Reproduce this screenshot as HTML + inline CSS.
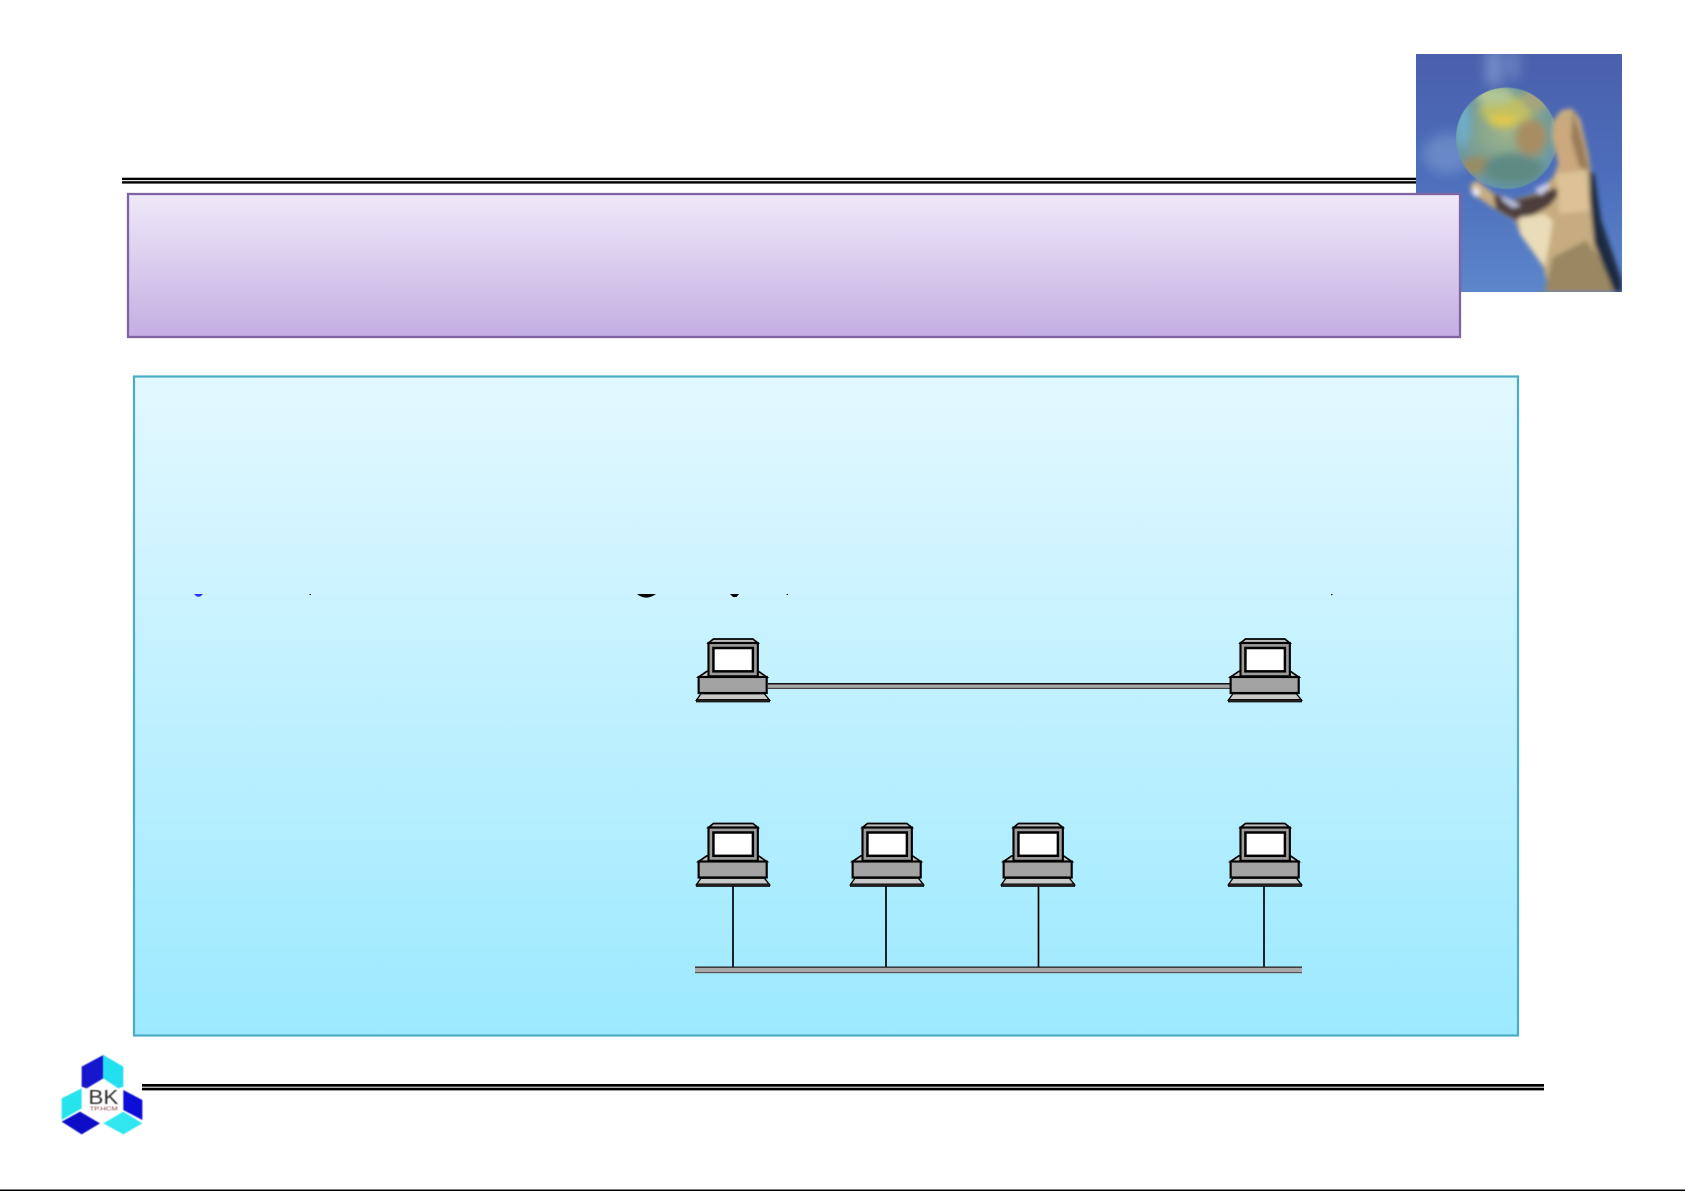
<!DOCTYPE html>
<html>
<head>
<meta charset="utf-8">
<style>
html,body{margin:0;padding:0;background:#fff;width:1685px;height:1191px;overflow:hidden}
svg{display:block;position:absolute;left:0;top:0}
</style>
</head>
<body>
<svg width="1685" height="1191" viewBox="0 0 1685 1191" xmlns="http://www.w3.org/2000/svg">
<defs>
<linearGradient id="pur" x1="0" y1="0" x2="0" y2="1"><stop offset="0" stop-color="#EFE9F9"/><stop offset="1" stop-color="#C4AEE2"/></linearGradient>
<linearGradient id="blu" x1="0" y1="0" x2="0" y2="1"><stop offset="0" stop-color="#E3F8FF"/><stop offset="1" stop-color="#9CE9FF"/></linearGradient>
<linearGradient id="sky" x1="0" y1="0" x2="0" y2="1"><stop offset="0" stop-color="#4A60AC"/><stop offset=".5" stop-color="#4C6DBB"/><stop offset="1" stop-color="#5C86CA"/></linearGradient>
<radialGradient id="glb" cx=".5" cy=".42" r=".6"><stop offset="0" stop-color="#A0B48A"/><stop offset=".55" stop-color="#7FA290"/><stop offset="1" stop-color="#5F93AE"/></radialGradient>
<filter id="b5" x="-30%" y="-30%" width="160%" height="160%"><feGaussianBlur stdDeviation="7"/></filter>
<filter id="b10" x="-30%" y="-30%" width="160%" height="160%"><feGaussianBlur stdDeviation="12"/></filter>
<filter id="b14" x="-80%" y="-80%" width="260%" height="260%"><feGaussianBlur stdDeviation="18"/></filter>
<filter id="b1" x="-10%" y="-10%" width="120%" height="120%"><feGaussianBlur stdDeviation="1.5"/></filter>
<clipPath id="pc"><rect x="0" y="0" width="618" height="714"/></clipPath>
<clipPath id="gc"><circle cx="272" cy="253" r="152"/></clipPath>
<symbol id="pc1" viewBox="0 0 225 195" width="74" height="65" preserveAspectRatio="none" overflow="visible">
  <g stroke="#000" stroke-linejoin="miter">
    <polygon points="8,117 33,100 190,100 215,117" fill="#c4c4c4" stroke-width="5"/>
    <rect x="8" y="117" width="207" height="48" fill="#a3a3a3" stroke-width="6.5"/>
    <polygon points="15,167 208,167 224,187 1,187" fill="#c8c8c8" stroke-width="4"/>
    <rect x="1" y="184" width="223" height="8" fill="#222" stroke-width="2"/>
    <polygon points="38,15 53,3 173,3 188,15" fill="#bdbdbd" stroke-width="5"/>
    <rect x="38" y="15" width="150" height="100" fill="#9c9c9c" stroke-width="6.5"/>
    <rect x="53" y="30" width="120" height="70" fill="#fff" stroke-width="7.5"/>
  </g>
</symbol>
</defs>

<!-- globe photo -->
<svg x="1416" y="54" width="206" height="238" viewBox="0 0 618 714">
  <g clip-path="url(#pc)">
    <rect width="618" height="714" fill="url(#sky)"/>
    <ellipse cx="235" cy="40" rx="28" ry="65" fill="#7D96CC" opacity=".8" filter="url(#b14)"/>
    <ellipse cx="290" cy="30" rx="22" ry="50" fill="#7690C8" opacity=".7" filter="url(#b14)"/>
    <ellipse cx="95" cy="300" rx="75" ry="60" fill="#7392CC" opacity=".75" filter="url(#b14)"/>
    <circle cx="272" cy="253" r="152" fill="url(#glb)" filter="url(#b1)"/>
    <g clip-path="url(#gc)">
      <g filter="url(#b10)">
        <ellipse cx="272" cy="170" rx="80" ry="42" fill="#BFBF64"/>
        <ellipse cx="262" cy="200" rx="45" ry="20" fill="#E0C84C"/>
        <ellipse cx="235" cy="125" rx="55" ry="28" fill="#B0C694"/>
        <ellipse cx="345" cy="250" rx="45" ry="55" fill="#A88C62"/>
        <ellipse cx="360" cy="135" rx="40" ry="40" fill="#A4A47E"/>
        <ellipse cx="185" cy="335" rx="50" ry="28" fill="#9A8C62"/>
        <ellipse cx="290" cy="345" rx="90" ry="45" fill="#5E8A84"/>
        <ellipse cx="140" cy="210" rx="25" ry="70" fill="#6FACC6"/>
      </g>
    </g>
    <g filter="url(#b5)">
      <polygon points="412,198 437,168 467,163 492,193 517,298 527,368 542,468 557,578 618,714 400,714 382,638 312,538 297,498 242,468 167,418 162,393 182,378 232,418 292,438 362,418 412,368 427,328 407,248" fill="#C6AC80"/>
      <polygon points="240,465 300,498 340,490 400,455 430,420 420,400 370,420 290,440 232,420" fill="#4E3E3A"/>
      <polygon points="310,490 385,480 410,500 400,570 385,640 312,540" fill="#EADCB8"/>
      <polygon points="385,714 410,610 510,560 550,610 600,714" fill="#9A8862"/>
      <polygon points="420,210 450,190 470,280 490,350 440,370 420,300" fill="#CCA87E"/>
      <polygon points="470,170 500,260 520,350 490,340 465,250" fill="#9C7C58"/>
      <polygon points="420,360 510,350 520,470 430,480" fill="#DCC296"/>
      <polygon points="520,350 535,360 556,500 618,680 618,714 595,714 535,570 522,440" fill="#1C2A42"/>
      <polygon points="165,415 180,395 195,415 180,430" fill="#E8E6EA"/>
      <polygon points="255,425 300,445 315,455 290,462 260,440" fill="#B8C0DC"/>
      <polygon points="355,405 395,385 400,400 375,425" fill="#C8CCE4"/>
    </g>
  </g>
</svg>

<!-- header double line -->
<rect x="122" y="177.7" width="1294" height="2.4" fill="#000"/>
<rect x="122" y="181.2" width="1294" height="2.4" fill="#000"/>

<!-- title box -->
<rect x="128" y="194" width="1332" height="143" fill="url(#pur)" stroke="#8064A2" stroke-width="2.3"/>

<!-- content box -->
<rect x="134" y="376.5" width="1384" height="659" fill="url(#blu)" stroke="#4BACC6" stroke-width="2.2"/>

<!-- clipped text descenders -->
<path d="M194,594 L203,594 L201,596 Q198.5,597.5 196,596 Z" fill="#3333FF"/>
<rect x="309.5" y="594" width="1.5" height="1" fill="#223"/>
<path d="M637,594 L656,594 Q651,597.6 646.5,597.6 Q641,597.6 637,594 Z" fill="#000"/>
<path d="M730,594 L739,594 L736.5,597 L733,597 Z" fill="#000"/>
<rect x="786.5" y="594" width="1.5" height="1" fill="#223"/>
<rect x="1331" y="594" width="1.5" height="1.2" fill="#223"/>

<!-- point to point link -->
<rect x="768" y="683" width="462" height="6" fill="#A8A8A8"/>
<rect x="768" y="683" width="462" height="1.5" fill="#111"/>
<rect x="768" y="687.8" width="462" height="1.2" fill="#444"/>

<!-- bus stubs -->
<g stroke="#000" stroke-width="1.7">
<line x1="733" y1="886" x2="733" y2="967"/>
<line x1="886" y1="886" x2="886" y2="967"/>
<line x1="1038.5" y1="886" x2="1038.5" y2="967"/>
<line x1="1264" y1="886" x2="1264" y2="967"/>
</g>
<!-- bus -->
<rect x="695" y="966.5" width="607" height="6.5" fill="#A8A8A8"/>
<rect x="695" y="966.5" width="607" height="1.3" fill="#222"/>
<rect x="695" y="972" width="607" height="1.2" fill="#555"/>

<!-- computers -->
<use href="#pc1" x="696" y="638"/>
<use href="#pc1" x="1228" y="638"/>
<use href="#pc1" x="696" y="822.5"/>
<use href="#pc1" x="850" y="822.5"/>
<use href="#pc1" x="1001" y="822.5"/>
<use href="#pc1" x="1228" y="822.5"/>

<!-- footer lines -->
<rect x="142" y="1084" width="1402" height="2.7" fill="#000"/>
<rect x="142" y="1087.7" width="1402" height="2.7" fill="#000"/>
<rect x="0" y="1189.5" width="1685" height="1.5" fill="#000"/>

<!-- logo -->
<svg x="55" y="1045" width="95" height="95" viewBox="0 0 285 285">
  <g filter="url(#b1)">
    <polygon points="80,65 145,30 145,100 95,130 80,125" fill="#1212CC"/>
    <polygon points="145,30 205,65 205,125 190,130 145,100" fill="#22E0F0"/>
    <polygon points="205,135 262,165 262,225 205,195" fill="#0A0AD8"/>
    <polygon points="20,160 80,130 80,190 20,225" fill="#28E4EC"/>
    <polygon points="20,230 75,200 135,235 80,268" fill="#0808C8"/>
    <polygon points="145,235 205,200 262,235 205,268" fill="#30E6F0"/>
    <text x="100" y="177" font-family="'Liberation Sans',sans-serif" font-size="62" textLength="90" lengthAdjust="spacingAndGlyphs" fill="#333">BK</text>
    <text x="104" y="196" font-family="'Liberation Sans',sans-serif" font-size="17" textLength="84" lengthAdjust="spacingAndGlyphs" fill="#844">TP.HCM</text>
  </g>
</svg>
</svg>
</body>
</html>
